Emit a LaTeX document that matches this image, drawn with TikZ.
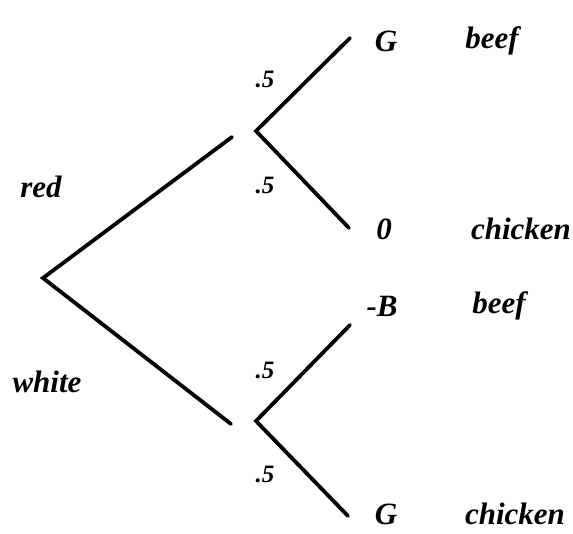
\documentclass[tikz,border=0pt]{standalone}
\usepackage{fontspec}
\setmainfont{Liberation Serif}
\usepackage{tikz}
\usetikzlibrary{positioning, calc}
\tikzstyle{branch} = [line width=3.8pt, line cap=round, line join=miter]
\tikzstyle{lbl} = [font=\fontsize{31}{35}\selectfont\bfseries\itshape, inner sep=0pt]
\tikzstyle{prob} = [font=\fontsize{25}{28}\selectfont\bfseries\itshape, inner sep=0pt]

\begin{document}
\begin{tikzpicture}[x=1pt, y=-1pt]
    \useasboundingbox (0,0) rectangle (573,533);

    % Decision node and its branches
    \coordinate (root) at (43, 278);
    \coordinate (redend) at (232, 137);
    \coordinate (whiteend) at (231, 424);

    % Chance nodes
    \coordinate (upper) at (256, 131);
    \coordinate (lower) at (256, 421);
    \coordinate (uu) at (350, 38);
    \coordinate (ud) at (349, 228);
    \coordinate (lu) at (350, 325);
    \coordinate (ld) at (348, 516);

    % Branch labels
    \node[lbl] (red) at (41, 187) {red};
    \node[lbl] (white) at (47, 382) {white};
    \node[prob] (p1) at (265, 79) {.5};
    \node[prob] (p2) at (265, 185) {.5};
    \node[prob] (p3) at (265, 370) {.5};
    \node[prob] (p4) at (265, 474) {.5};

    % Payoffs
    \node[lbl] (g1) at (386, 41) {G};
    \node[lbl] (b1) at (492, 41) {beef};
    \node[lbl] (z1) at (384, 229) {0};
    \node[lbl] (c1) at (521, 229) {chicken};
    \node[lbl] (mb) at (382, 306) {-B};
    \node[lbl] (b2) at (499, 306) {beef};
    \node[lbl] (g2) at (386, 514) {G};
    \node[lbl] (c2) at (515, 514) {chicken};

    % Lines
    \draw[branch] (redend) -- (root) -- (whiteend);
    \draw[branch] (uu) -- (upper) -- (ud);
    \draw[branch] (lu) -- (lower) -- (ld);
\end{tikzpicture}
\end{document}
